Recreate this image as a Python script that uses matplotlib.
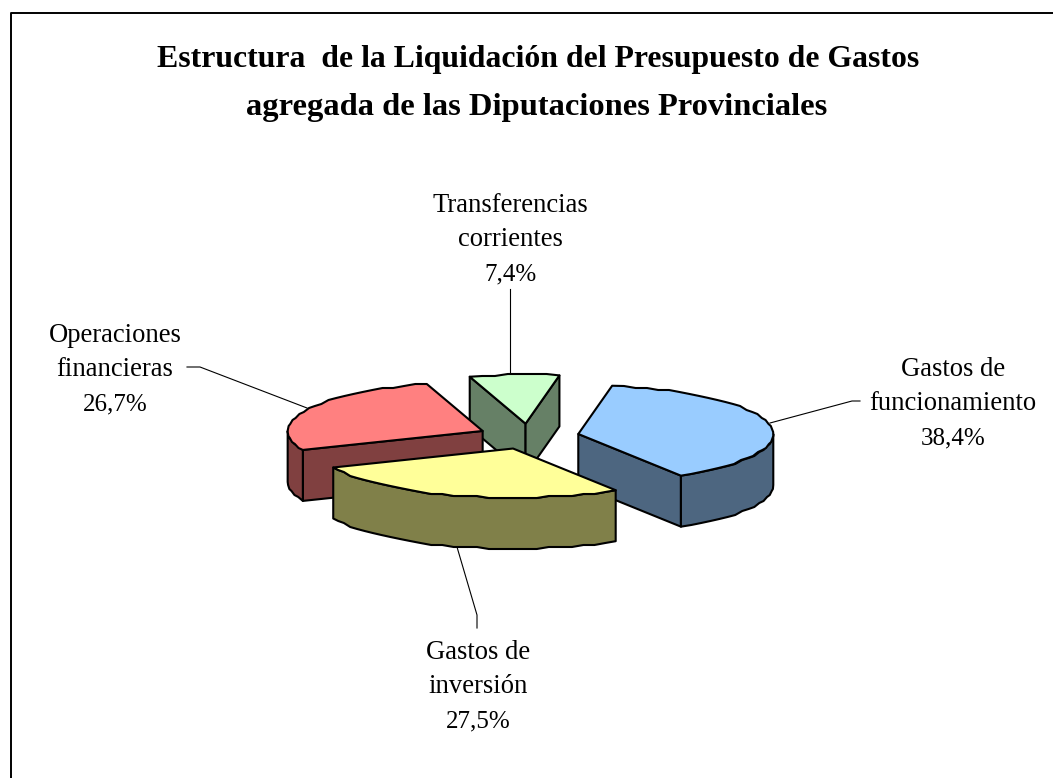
#!/usr/bin/env python3

import numpy as np
import matplotlib
matplotlib.use("Agg")
import matplotlib.pyplot as plt
from matplotlib.patches import Polygon

# Data
categories = [["Gastos de", "funcionamiento"], ["Gastos de", "inversión"],
              ["Operaciones", "financieras"], ["Transferencias", "corrientes"]]
values = [38.4, 27.5, 26.7, 7.4]
title_lines = ["Estructura  de la Liquidación del Presupuesto de Gastos",
               "agregada de las Diputaciones Provinciales"]

# Colours
top_colors = ["#99CCFF", "#FFFF99", "#FF8080", "#CCFFCC"]
side_colors = ["#4D6680", "#808049", "#804040", "#668066"]

# Pie geometry, in image pixels
CX, CY = 528.5, 436.4
RX, RY = 195, 49
DEPTH = 51
EXPLODE = 0.26
START_ANGLE = 80

# Label anchors (centre x, baseline of the middle line) and leader lines, in image pixels
label_pos = [(953, 410), (478, 693), (115, 376), (510, 246)]
LINE_STEP = 34
leaders = [
    [(770, 423), (852, 401), (860, 401)],
    [(457, 547), (477, 615), (477, 628)],
    [(187, 367), (200, 367), (307, 408)],
    [(510, 289), (510, 376)],
]


def arc_points(apex, a0, a1):
    """Points of the rim between two angles, snapped a bit like the original's rough outline."""
    n = max(int(abs(a1 - a0) / 3.5), 1) + 1
    t = np.radians(np.linspace(a0, a1, n))
    x = apex[0] + RX * np.cos(t)
    y = apex[1] - RY * np.sin(t)
    y[1:-1] = np.round(y[1:-1] / 2) * 2
    return np.column_stack([x, y])


def add_poly(ax, pts, color, z):
    ax.add_patch(Polygon(pts, closed=True, facecolor=color, edgecolor="black",
                         linewidth=1.5, joinstyle="round", zorder=z))


def draw_slice(ax, start, end, top, side, z):
    """Draw one exploded slice; it runs clockwise from start to end."""
    mid = np.radians((start + end) / 2)
    apex = (CX + EXPLODE * RX * np.cos(mid), CY - EXPLODE * RY * np.sin(mid))
    down = np.array([0, DEPTH])

    # flat cut faces that look towards the viewer
    for angle, normal in ((start, start + 90), (end, end - 90)):
        if np.sin(np.radians(normal)) < 0:
            rim = arc_points(apex, angle, angle)[0]
            face = np.array([apex, rim, rim + down, np.array(apex) + down])
            add_poly(ax, face, side, z)

    # outer wall, only the part on the near half of the ellipse
    a0 = min(start, 0)
    a1 = max(end, -180)
    if a0 > a1:
        rim = arc_points(apex, a0, a1)
        add_poly(ax, np.vstack([rim, rim[::-1] + down]), side, z)

    # top
    add_poly(ax, np.vstack([[apex], arc_points(apex, start, end)]), top, z + 0.5)


def main():
    plt.rcParams["font.family"] = ["Liberation Serif", "DejaVu Serif"]

    fig = plt.figure(figsize=(10.53, 7.78), dpi=100)
    ax = fig.add_axes([0, 0, 1, 1])
    ax.set_xlim(0, 1053)
    ax.set_ylim(778, 0)
    ax.axis("off")

    # Chart border runs off the image on the right and at the bottom
    ax.plot([10.5, 10.5, 1053], [778, 12.5, 12.5], color="black", linewidth=1.4)

    spans = [v / sum(values) * 360 for v in values]
    starts = START_ANGLE - np.concatenate([[0], np.cumsum(spans)[:-1]])
    ends = starts - np.array(spans)

    # back to front: transferencias, operaciones, funcionamiento, inversion
    for z, i in enumerate([3, 2, 0, 1]):
        draw_slice(ax, starts[i], ends[i], top_colors[i], side_colors[i], 2 + z)

    for line in leaders:
        xs, ys = zip(*line)
        ax.plot(xs, ys, color="black", linewidth=0.8, zorder=1)

    ax.text(538.5, 67, title_lines[0], ha="center", va="baseline",
            fontsize=22.9, fontweight="bold")
    ax.text(536.5, 115, title_lines[1], ha="center", va="baseline",
            fontsize=23.4, fontweight="bold")

    for name, val, (x, y) in zip(categories, values, label_pos):
        ax.text(x, y - LINE_STEP, name[0], ha="center", va="baseline", fontsize=19.2)
        ax.text(x, y, name[1], ha="center", va="baseline", fontsize=19.2)
        ax.text(x, y + LINE_STEP, f"{val:.1f}%".replace(".", ","), ha="center",
                va="baseline", fontsize=18)

    fig.savefig("out.png", dpi=100)


if __name__ == "__main__":
    main()
